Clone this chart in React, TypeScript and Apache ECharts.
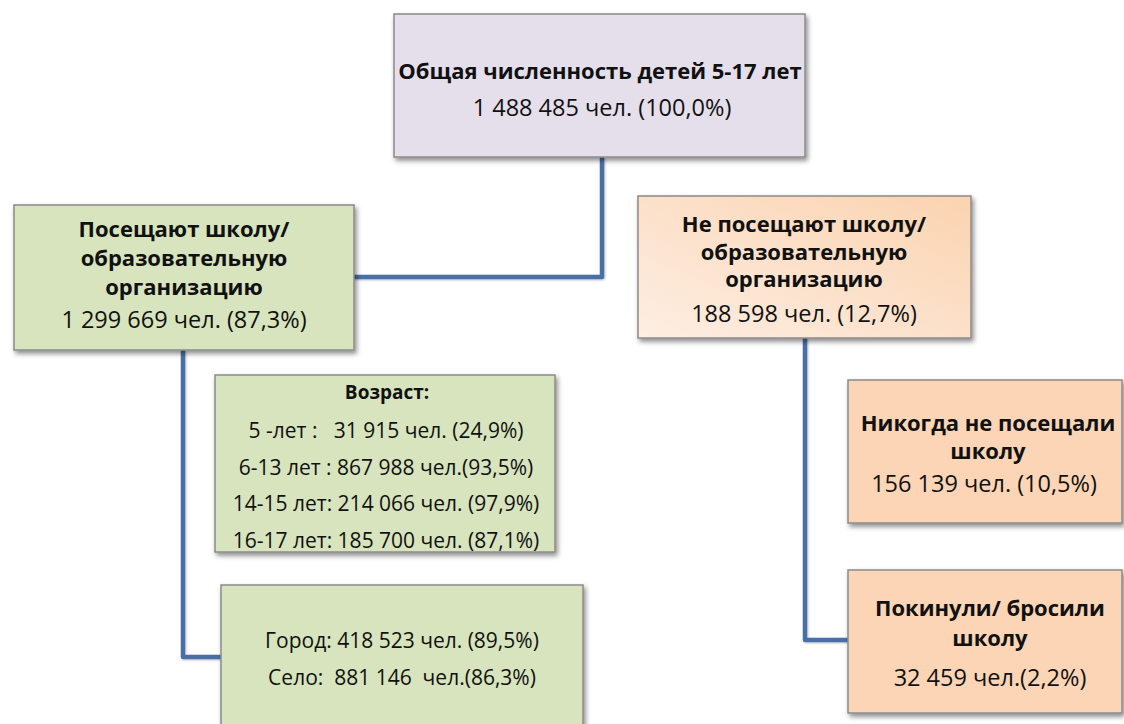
import React, { useEffect, useRef } from "react";
import * as echarts from "echarts";

// ---- Data (text content of each node) ----
const totalTitle = ["Общая численность детей 5-17 лет"];
const totalValue = ["1 488 485 чел. (100,0%)"];

const attendTitle = ["Посещают школу/", "образовательную", "организацию"];
const attendValue = ["1 299 669 чел. (87,3%)"];

const notAttendTitle = ["Не посещают школу/", "образовательную", "организацию"];
const notAttendValue = ["188 598 чел. (12,7%)"];

const ageTitle = ["Возраст:"];
const ageLines = [
  "5 -лет :   31 915 чел. (24,9%)",
  "6-13 лет : 867 988 чел.(93,5%)",
  "14-15 лет: 214 066 чел. (97,9%)",
  "16-17 лет: 185 700 чел. (87,1%)",
];

const settlementLines = ["Город: 418 523 чел. (89,5%)", "Село:  881 146  чел.(86,3%)"];

const neverTitle = ["Никогда не посещали", "школу"];
const neverValue = ["156 139 чел. (10,5%)"];

const droppedTitle = ["Покинули/ бросили", "школу"];
const droppedValue = ["32 459 чел.(2,2%)"];

const FONT = "'Open Sans', 'Noto Sans', sans-serif";
const LINE = "#4a6fa6";
const BORDER = "#8a8a8a";
const B = 22; // bold title size
const R = 23.5; // regular value size

function box(x: number, y: number, w: number, h: number, fill: any) {
  return {
    type: "rect",
    shape: { x, y, width: w, height: h },
    style: {
      fill,
      stroke: BORDER,
      lineWidth: 1.5,
      shadowBlur: 5,
      shadowOffsetX: 2,
      shadowOffsetY: 3,
      shadowColor: "rgba(0,0,0,0.45)",
    },
    z: 10,
  };
}

// one (possibly multi-line) text block, centred on (x, y)
function block(arr: string[], x: number, y: number, size: number, bold: boolean, lh: number) {
  return {
    type: "text",
    z: 20,
    style: {
      text: arr.join("\n"),
      x,
      y,
      font: `${bold ? "bold " : ""}${size}px ${FONT}`,
      lineHeight: lh,
      fill: "#111111",
      textAlign: "center",
      textVerticalAlign: "middle",
      align: "center",
      verticalAlign: "middle",
    },
  };
}

function conn(points: number[][]) {
  return {
    type: "polyline",
    z: 5,
    shape: { points },
    style: {
      stroke: LINE,
      lineWidth: 4.5,
      fill: null,
      lineJoin: "round",
      shadowBlur: 2,
      shadowOffsetX: 1,
      shadowOffsetY: 1,
      shadowColor: "rgba(0,0,0,0.25)",
    },
  };
}

export default function App() {
  const ref = useRef<HTMLDivElement>(null);
  useEffect(() => {
    if (!ref.current) return;
    const chart = echarts.init(ref.current, undefined, { renderer: "svg" });
    const peachGrad = new echarts.graphic.LinearGradient(0, 1, 1, 0, [
      { offset: 0, color: "#fdeee3" },
      { offset: 1, color: "#fbd3b0" },
    ]);
    const elements: any[] = [
      // connectors
      conn([[602, 157], [602, 277], [353, 277]]),
      conn([[602, 267], [638, 267]]),
      conn([[183, 350], [183, 657], [221, 657]]),
      conn([[183, 468], [215, 468]]),
      conn([[805, 338], [805, 640], [848, 640]]),
      conn([[805, 453], [848, 453]]),
      // boxes
      box(394, 14, 411, 143, "#e5dfec"),
      box(14, 205, 340, 145, "#d7e4bd"),
      box(638, 196, 333, 142, peachGrad),
      box(215, 375, 340, 177, "#d7e4bd"),
      box(221, 585, 362, 160, "#d7e4bd"),
      box(848, 380, 274, 143, "#fbd5b5"),
      box(848, 570, 274, 143, "#fbd5b5"),
      // texts
      block(totalTitle, 600, 70, B, true, 28),
      block(totalValue, 602, 107, R, false, 28),
      block(attendTitle, 184, 257, B, true, 29),
      block(attendValue, 184, 319, R, false, 28),
      block(notAttendTitle, 804, 250.5, B, true, 27.5),
      block(notAttendValue, 804, 313, R, false, 28),
      block(ageTitle, 387, 392, 19, true, 24),
      block(ageLines, 386, 485, 21, false, 36.7),
      block(settlementLines, 402, 658.5, 21, false, 37),
      block(neverTitle, 988, 436, B, true, 28),
      block(neverValue, 984, 483, R, false, 28),
      block(droppedTitle, 990, 622, B, true, 30),
      block(droppedValue, 990, 677, R, false, 28),
    ];
    chart.setOption({
      animation: false,
      backgroundColor: "#ffffff",
      graphic: { elements },
    });
    return () => chart.dispose();
  }, []);
  return (
    <div
      ref={ref}
      style={{ position: "fixed", left: 0, top: 0, width: 1124, height: 724 }}
    />
  );
}
